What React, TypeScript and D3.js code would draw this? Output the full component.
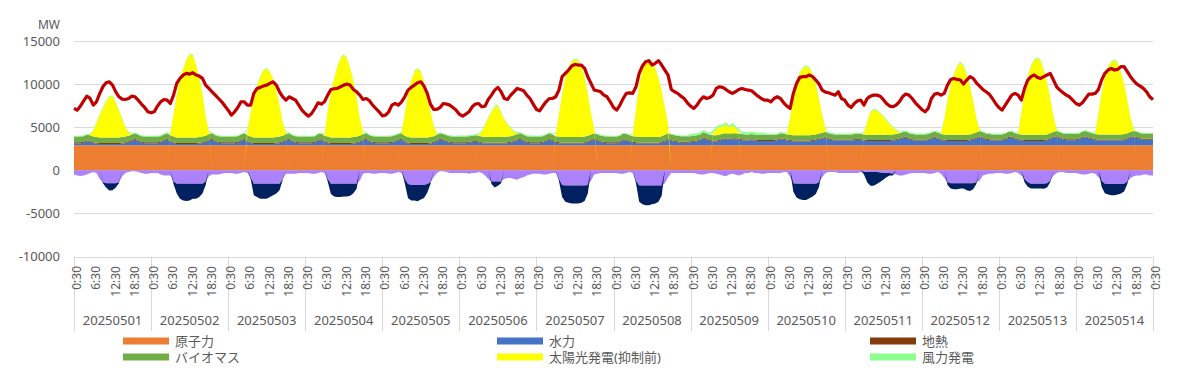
import React from 'react';
import * as d3 from 'd3';

const days = ['20250501','20250502','20250503','20250504','20250505','20250506','20250507','20250508','20250509','20250510','20250511','20250512','20250513','20250514'];
const tickLabels = ['0:30', '6:30', '12:30', '18:30'];
const yTicks = [15000, 10000, 5000, 0, -5000, -10000];

// per-day constant-ish series (MW)
const nuclear = [2900,2900,2900,2900,2900,2900,2900,2900,2900,2900,2900,2900,2900,2900];
const geothermal = [110,110,110,110,110,110,110,110,110,110,110,110,110,110];
const biomass = [650,650,650,650,650,650,650,650,600,600,600,600,600,600];
const wind = [100,100,90,90,100,120,100,90,250,120,120,110,110,110];

// hourly series (0:30 .. 23:30 each day) + final point
const demand = [
  7180,6980,7450,8060,8600,8340,7560,7950,8900,9690,10150,10270,9880,9100,8530,8260,8220,8330,8600,8530,8140,7680,7290,6790,
  6670,6790,7450,7950,8220,8140,7750,8720,10080,10660,11050,11240,11160,11320,11050,10930,10660,9880,9500,9110,8720,8330,7950,7450,
  6980,6400,6790,7290,7950,7950,7560,7560,8920,9500,9620,9770,9880,10080,10270,9880,9110,8530,8140,8530,8330,8140,7560,6980,
  6590,6280,6590,7170,7830,7680,7950,8720,9380,9460,9500,9690,9880,10000,9880,9380,9110,8720,8220,8330,8060,7560,7170,6790,
  6320,6400,6790,7560,7750,7560,7950,8530,9300,9620,9880,10150,10270,9770,8920,7680,7060,7060,7290,7750,7680,7560,7290,6980,
  6510,6280,6510,6790,7370,7680,7750,7370,7450,8220,8720,9300,9620,9110,8330,8220,8720,9110,9500,9380,9230,8720,8330,7680,
  7060,6900,7450,7950,8330,8330,8530,9300,10860,11240,11630,12100,12290,12210,12210,11820,10860,10080,9300,9230,9110,8720,8530,7950,
  7290,6980,7560,8330,8920,8990,8920,9690,11240,12100,12600,12720,12210,12410,12720,12210,11630,11050,9380,9110,8920,8600,8330,7830,
  7450,7170,7560,8140,8530,8330,8450,8720,9500,9690,9620,9380,9110,8920,9110,9380,9500,9380,9300,9230,8920,8600,8330,8140,
  8140,7950,8330,8530,8330,7830,7450,7170,8920,10080,10780,10860,10860,11050,10860,10470,10000,9300,9070,9000,8840,8720,9110,8330,
  8140,7560,7290,7750,8060,8140,7560,8330,8600,8720,8720,8600,8220,7750,7450,7370,7560,7950,8530,8840,8720,8330,7830,7450,
  7060,6790,7170,8330,8840,8920,8720,8920,9880,10540,10660,10540,10470,10000,10470,10860,10660,10150,9770,9380,9110,8840,8330,7750,
  7290,6980,7560,8140,8720,8920,8720,8140,9500,10470,10860,11050,10780,10660,10860,11050,11240,10470,9690,9300,8990,8720,8530,8140,
  7750,7560,7830,8330,8840,8840,8920,9380,10470,11240,11630,11820,11630,11710,12020,12020,11440,10860,10390,10000,9770,9500,9110,8530,
  8200,
];

const solar = [
  0,0,0,0,0,100,700,1600,2600,3400,4200,4700,4800,4000,3100,2100,1100,350,50,0,0,0,0,0,
  0,0,0,0,0,0,200,2600,4900,6850,8000,9000,9650,9550,8400,6850,4900,2200,300,0,0,0,0,0,
  0,0,0,0,0,0,600,2800,4600,6000,7000,7800,8000,7600,6800,5400,3600,1500,200,0,0,0,0,0,
  0,0,0,0,0,0,200,3000,5200,6800,8200,9200,9600,9200,8000,6500,4500,2000,300,0,0,0,0,0,
  0,0,0,0,0,0,100,2500,5000,6600,7600,8000,7600,6400,4800,3000,1200,100,0,0,0,0,0,0,
  0,0,0,0,0,0,100,600,1400,2200,2900,3500,3600,2800,2000,1400,900,400,100,0,0,0,0,0,
  0,0,0,0,0,0,300,2500,5000,6800,8000,8800,9000,8900,8200,6800,4800,2400,500,0,0,0,0,0,
  0,0,0,0,0,0,200,3200,6000,7800,8700,8900,8800,8000,6800,5200,3200,1000,0,0,0,0,0,0,
  0,0,0,0,0,0,0,300,700,900,800,1000,700,900,600,300,0,0,0,0,0,0,0,0,
  0,0,0,0,0,0,100,2000,4500,6200,7200,7800,8000,7800,7000,5800,4000,2000,400,0,0,0,0,0,
  0,0,0,0,0,0,200,1500,2600,2900,2800,2500,2100,1700,1200,800,400,100,0,0,0,0,0,0,
  0,0,0,0,0,0,100,1800,4000,5800,7000,7900,8400,8000,7000,5600,3800,1600,200,0,0,0,0,0,
  0,0,0,0,0,0,100,2500,5000,6800,8000,8700,8900,8600,7500,6000,4000,1800,200,0,0,0,0,0,
  0,0,0,0,0,0,100,2400,4800,6600,7800,8400,8600,8300,7200,5800,3800,1600,200,0,0,0,0,0,
  0,
];

const hydro = [
  250,250,250,300,450,400,250,200,150,150,150,150,150,150,150,200,250,350,500,650,450,300,250,250,
  250,250,250,300,500,650,400,250,150,150,150,150,150,150,150,200,250,350,550,650,400,300,250,250,
  250,250,250,300,500,650,400,250,150,150,150,150,150,150,150,200,250,350,550,650,400,300,250,250,
  250,250,250,300,550,600,350,250,150,150,150,150,150,150,150,200,250,350,550,650,400,300,250,250,
  250,250,250,300,400,550,650,350,200,150,150,150,150,150,150,200,300,450,650,550,400,300,250,250,
  250,250,250,300,350,400,350,250,200,200,200,200,200,200,200,250,300,400,550,650,450,300,250,250,
  250,250,300,450,650,500,300,250,200,200,200,200,200,200,200,250,350,500,650,500,350,300,250,250,
  250,250,350,600,550,400,300,250,200,200,200,200,200,200,200,300,450,650,500,400,350,300,300,300,
  350,400,450,550,800,650,500,450,450,500,650,700,650,700,700,650,600,550,550,600,550,500,500,500,
  500,500,500,550,700,650,550,500,450,450,450,450,450,450,500,550,650,750,850,700,600,550,550,550,
  550,550,550,600,650,600,550,500,500,500,500,500,500,500,500,550,600,700,800,900,700,600,550,550,
  550,550,600,750,900,750,600,550,500,500,500,500,500,500,500,550,650,800,950,800,650,600,550,550,
  550,550,650,850,900,700,600,550,500,500,500,500,500,500,500,550,700,850,950,800,650,600,600,600,
  600,650,850,950,800,700,600,550,550,550,550,550,550,550,550,600,700,850,950,850,700,650,650,650,
  650,
];

const pumped = [
  -500,-600,-650,-600,-500,-300,-200,-300,-1000,-1400,-1500,-1500,-1500,-1500,-1400,-700,-300,-200,-100,-100,-200,-300,-400,-400,
  -300,-300,-300,-500,-600,-600,-600,-1300,-1550,-1550,-1550,-1550,-1550,-1550,-1550,-1550,-1550,-1300,-700,-500,-500,-500,-400,-300,
  -300,-300,-400,-400,-300,-200,-300,-800,-1550,-1550,-1550,-1550,-1550,-1550,-1550,-1550,-1550,-1000,-400,-400,-400,-400,-300,-300,
  -300,-300,-400,-400,-300,-200,-300,-1000,-1550,-1550,-1550,-1550,-1550,-1550,-1550,-1550,-1550,-1200,-400,-300,-300,-400,-400,-300,
  -300,-300,-400,-400,-300,-200,-300,-1000,-1600,-1700,-1700,-1700,-1700,-1700,-1600,-1400,-800,-300,-100,-100,-200,-300,-300,-300,
  -300,-300,-300,-400,-300,-300,-200,-300,-600,-1000,-1300,-1300,-1300,-1300,-1000,-900,-900,-1000,-1100,-900,-800,-600,-500,-400,
  -400,-400,-500,-500,-400,-300,-300,-1000,-1700,-1750,-1750,-1750,-1750,-1750,-1750,-1750,-1700,-1200,-500,-400,-300,-300,-300,-300,
  -300,-300,-400,-400,-300,-200,-300,-1200,-1750,-1750,-1750,-1750,-1750,-1750,-1750,-1750,-1500,-800,-300,-300,-300,-300,-300,-300,
  -300,-300,-400,-500,-500,-400,-300,-300,-400,-500,-600,-700,-500,-400,-500,-600,-500,-300,-300,-200,-300,-300,-400,-400,
  -300,-300,-300,-300,-300,-200,-200,-800,-1500,-1550,-1550,-1550,-1550,-1550,-1550,-1550,-1400,-800,-300,-200,-200,-200,-300,-300,
  -300,-300,-300,-300,-300,-200,-200,-200,-200,-200,-200,-250,-300,-300,-300,-400,-500,-600,-600,-500,-400,-300,-300,-300,
  -300,-300,-400,-400,-300,-200,-400,-900,-1400,-1500,-1500,-1500,-1500,-1500,-1500,-1500,-1500,-1400,-1200,-600,-500,-400,-400,-300,
  -300,-300,-400,-400,-300,-200,-300,-600,-1000,-1400,-1550,-1550,-1550,-1550,-1550,-1500,-1200,-600,-300,-200,-200,-300,-300,-300,
  -300,-400,-500,-500,-400,-300,-400,-800,-1200,-1550,-1600,-1600,-1600,-1600,-1600,-1550,-1300,-900,-700,-600,-600,-500,-500,-600,
  -600,
];

const tieLine = [
  0,0,0,0,0,0,0,0,0,-100,-500,-850,-800,-500,-100,0,0,0,0,0,0,0,0,0,
  0,0,0,0,0,0,0,-300,-1150,-1750,-1950,-2000,-1950,-1750,-1750,-1550,-1150,-400,0,0,0,0,0,0,
  0,0,0,0,0,0,0,-200,-1350,-1550,-1750,-1750,-1750,-1550,-1350,-1150,-750,-100,0,0,0,0,0,0,
  0,0,0,0,0,0,0,-300,-1200,-1500,-1550,-1550,-1500,-1500,-1400,-1100,-600,0,0,0,0,0,0,0,
  0,0,0,0,0,0,0,-500,-1600,-1800,-1800,-1900,-1700,-1500,-1000,-200,0,0,0,0,0,0,0,0,
  0,0,0,0,0,0,0,0,0,0,-300,-700,-500,-200,0,0,0,0,0,0,0,0,0,0,
  0,0,0,0,0,0,0,-200,-1400,-1900,-2000,-2100,-2100,-2100,-2000,-1800,-1000,0,0,0,0,0,0,0,
  0,0,0,0,0,0,0,-300,-1900,-2200,-2300,-2300,-2200,-2100,-1900,-1200,0,0,0,0,0,0,0,0,
  0,0,0,0,0,0,0,0,0,0,0,0,0,0,0,0,0,0,0,0,0,0,0,0,
  0,0,0,0,0,0,0,0,-1000,-1600,-1800,-1900,-1900,-1700,-1500,-1200,-500,0,0,0,0,0,0,0,
  0,0,0,0,0,0,-300,-1200,-1600,-1600,-1400,-1100,-800,-500,-300,-200,0,0,0,0,0,0,0,0,
  0,0,0,0,0,0,0,0,-300,-600,-700,-700,-600,-600,-800,-900,-700,-200,0,0,0,0,0,0,
  0,0,0,0,0,0,0,0,-400,-500,-550,-550,-550,-550,-600,-500,-200,0,0,0,0,0,0,0,
  0,0,0,0,0,0,0,0,-700,-1100,-1200,-1300,-1300,-1200,-1100,-900,-300,0,0,0,0,0,0,0,
  0,
];

const legendItems = [
  { key: 'nuclear', label: '原子力', color: '#ED7D31' },
  { key: 'biomass', label: 'バイオマス', color: '#70AD47' },
  { key: 'hydro', label: '水力', color: '#4472C4' },
  { key: 'solar', label: '太陽光発電(抑制前)', color: '#FFFF00' },
  { key: 'geothermal', label: '地熱', color: '#843C0C' },
  { key: 'wind', label: '風力発電', color: '#8CFF8C' },
];

const colors: Record<string, string> = {
  nuclear: '#ED7D31',
  hydro: '#4472C4',
  geothermal: '#843C0C',
  biomass: '#70AD47',
  solar: '#FFFF00',
  wind: '#8CFF8C',
  pumped: '#AC82FA',
  tieLine: '#002060',
};

const keys = ['nuclear', 'hydro', 'geothermal', 'biomass', 'solar', 'wind', 'pumped', 'tieLine'];

const W = 1200;
const H = 378;
const HOURS = 24;
const N = days.length * HOURS + 1;
const FONT = '"Noto Sans", "Noto Sans CJK JP", sans-serif';
const TEXT = '#595959';
const GRID = '#D9D9D9';

export default function App() {
  const x = d3.scaleLinear().domain([0, N - 1]).range([74, 1153]);
  const y = d3.scaleLinear().domain([-10000, 15000]).range([256.5, 41]);

  const dayOf = (i: number) => Math.min(Math.floor(i / HOURS), days.length - 1);
  const rows = d3.range(N).map((i) => ({
    i,
    nuclear: nuclear[dayOf(i)],
    hydro: hydro[i],
    geothermal: geothermal[dayOf(i)],
    biomass: biomass[dayOf(i)],
    solar: solar[i],
    wind: wind[dayOf(i)],
    pumped: pumped[i],
    tieLine: tieLine[i],
  }));

  const stacked = d3
    .stack<any>()
    .keys(keys)
    .offset(d3.stackOffsetDiverging)(rows);

  const area = d3
    .area<any>()
    .x((d: any) => x(d.data.i))
    .y0((d: any) => y(d[0]))
    .y1((d: any) => y(d[1]));

  const line = d3
    .line<number>()
    .x((_d, i) => x(i))
    .y((d) => y(d));

  const tickIdx = d3.range(0, N, 6);

  return (
    <svg width={W} height={H} style={{ position: 'absolute', left: 0, top: 0, background: '#fff' }} fontFamily={FONT}>
      <rect width={W} height={H} fill="#fff" />
      {/* gridlines */}
      {yTicks.map((t) => (
        <line key={t} x1={74} x2={1153} y1={Math.round(y(t)) + 0.5} y2={Math.round(y(t)) + 0.5} stroke={GRID} strokeWidth={1} />
      ))}
      {/* y labels */}
      <text x={60} y={29} textAnchor="end" fontSize={12} fill={TEXT}>MW</text>
      {yTicks.map((t) => (
        <text key={'l' + t} x={60} y={y(t) + 4.5} textAnchor="end" fontSize={13} fill={TEXT}>
          {t}
        </text>
      ))}
      {/* areas */}
      {stacked.map((s) => (
        <path key={s.key} d={area(s as any) || ''} fill={colors[s.key]} stroke="none" />
      ))}
      {/* demand line */}
      <path d={line(demand) || ''} fill="none" stroke="#C00000" strokeWidth={3.2} strokeLinejoin="round" />
      {/* day separators */}
      {d3.range(0, days.length + 1).map((d) => (
        <line key={'s' + d} x1={Math.round(x(d * HOURS)) + 0.5} x2={Math.round(x(d * HOURS)) + 0.5} y1={256.5} y2={331} stroke={GRID} strokeWidth={1} />
      ))}
      {/* hour labels */}
      {tickIdx.map((i) => (
        <text
          key={'t' + i}
          transform={`translate(${x(i) + 7},266) rotate(-90)`}
          textAnchor="end"
          fontSize={12}
          fill={TEXT}
        >
          {tickLabels[(i % HOURS) / 6]}
        </text>
      ))}
      {/* day labels */}
      {days.map((d, k) => (
        <text key={d} x={x(k * HOURS + HOURS / 2)} y={325} textAnchor="middle" fontSize={13} fill={TEXT}>
          {d}
        </text>
      ))}
      {/* legend */}
      {legendItems.map((it, k) => {
        const col = Math.floor(k / 2);
        const row = k % 2;
        const lx = [123, 497, 870][col];
        const ly = row === 0 ? 337.5 : 353.5;
        return (
          <g key={it.key}>
            <rect x={lx} y={ly} width={46} height={7} fill={it.color} />
            <text x={lx + 52} y={ly + 8} fontSize={13} fill={TEXT}>
              {it.label}
            </text>
          </g>
        );
      })}
    </svg>
  );
}
